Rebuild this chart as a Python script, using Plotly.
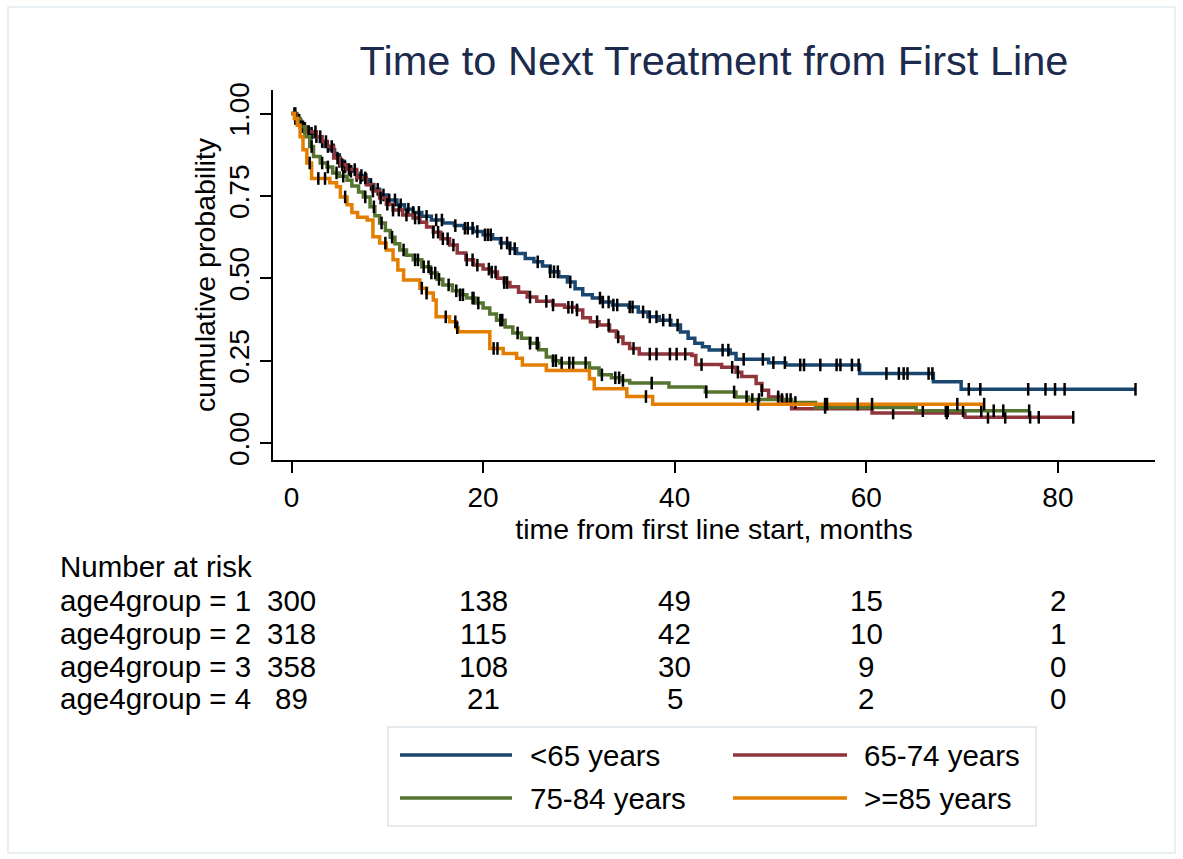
import numpy as np
import plotly.graph_objects as go

# ---------------- data ----------------
groups = ["<65 years", "65-74 years", "75-84 years", ">=85 years"]
colors = ["#1a476f", "#90353b", "#55752f", "#e37e00"]

blue_t = [0, 0.4, 0.8, 1.2, 1.8, 2.4, 3.0, 3.5, 4.0, 4.5, 5.0, 5.5, 6.2, 6.8, 7.4, 8.0, 8.6, 9.2, 10.0, 11.0, 11.8, 12.7, 13.6, 14.6, 15.8, 17.0, 18.0, 19.0, 20.0, 21.0, 21.8, 22.8, 23.5, 24.4, 25.3, 26.2, 27.0, 27.9, 28.8, 29.6, 30.4, 31.4, 32.4, 33.5, 35.2, 36.2, 37.2, 38.4, 39.6, 40.6, 41.4, 42.1, 42.9, 43.6, 45.8, 46.4, 49.8, 51.6, 59.3, 67.0, 69.9]
blue_s = [1.0, 0.985, 0.97, 0.955, 0.94, 0.93, 0.915, 0.9, 0.89, 0.875, 0.855, 0.838, 0.825, 0.812, 0.8, 0.785, 0.77, 0.753, 0.738, 0.723, 0.71, 0.7, 0.688, 0.677, 0.668, 0.66, 0.652, 0.642, 0.632, 0.62, 0.607, 0.59, 0.575, 0.56, 0.55, 0.537, 0.52, 0.505, 0.489, 0.468, 0.45, 0.44, 0.428, 0.419, 0.413, 0.398, 0.383, 0.373, 0.358, 0.337, 0.318, 0.303, 0.292, 0.282, 0.272, 0.254, 0.244, 0.237, 0.211, 0.186, 0.163]
blue_end = 88.1

red_t = [0, 0.5, 1.0, 1.6, 2.6, 3.2, 3.7, 4.4, 5.1, 5.8, 6.8, 7.8, 8.5, 9.2, 9.9, 10.6, 11.6, 12.7, 13.4, 14.1, 14.8, 15.6, 16.5, 17.3, 18.2, 19.0, 20.0, 20.7, 21.5, 22.2, 22.8, 23.7, 24.6, 25.6, 27.3, 28.5, 29.8, 30.4, 31.2, 32.1, 33.2, 33.9, 34.6, 35.3, 36.3, 41.8, 42.2, 44.9, 46.4, 47.0, 48.5, 49.1, 49.8, 51.2, 52.2, 60.6, 70.3]
red_s = [1.0, 0.98, 0.96, 0.945, 0.93, 0.915, 0.9, 0.865, 0.845, 0.83, 0.805, 0.784, 0.765, 0.744, 0.725, 0.707, 0.692, 0.683, 0.67, 0.656, 0.64, 0.62, 0.601, 0.577, 0.556, 0.54, 0.528, 0.519, 0.5, 0.487, 0.474, 0.458, 0.443, 0.43, 0.419, 0.412, 0.404, 0.38, 0.368, 0.358, 0.34, 0.322, 0.302, 0.287, 0.27, 0.266, 0.238, 0.23, 0.215, 0.202, 0.181, 0.16, 0.14, 0.123, 0.104, 0.091, 0.078]
red_end = 81.6

green_t = [0, 0.4, 0.9, 1.4, 1.9, 2.3, 3.0, 3.7, 4.3, 5.0, 5.8, 6.3, 7.0, 7.5, 8.2, 8.7, 9.2, 9.8, 10.3, 10.8, 11.3, 12.0, 12.7, 13.6, 14.5, 15.2, 15.8, 16.8, 17.6, 18.3, 19.2, 20.0, 20.7, 21.4, 22.3, 23.1, 24.0, 24.9, 25.8, 26.6, 27.3, 28.0, 31.1, 32.1, 33.4, 34.5, 35.3, 39.4, 43.2, 46.4, 47.7, 52.2, 54.7, 65.2]
green_s = [1.0, 0.985, 0.96, 0.93, 0.9, 0.87, 0.85, 0.838, 0.82, 0.81, 0.798, 0.78, 0.762, 0.747, 0.717, 0.69, 0.668, 0.645, 0.625, 0.605, 0.586, 0.57, 0.556, 0.535, 0.516, 0.497, 0.48, 0.462, 0.45, 0.44, 0.425, 0.41, 0.392, 0.373, 0.352, 0.334, 0.318, 0.303, 0.283, 0.261, 0.25, 0.243, 0.228, 0.207, 0.198, 0.19, 0.182, 0.17, 0.155, 0.14, 0.132, 0.123, 0.108, 0.098]
green_end = 77.0

orange_t = [0, 0.3, 0.6, 0.9, 1.2, 1.6, 2.1, 4.0, 4.7, 5.1, 5.8, 6.3, 6.9, 7.9, 8.5, 9.2, 9.9, 10.6, 11.1, 11.7, 13.4, 14.1, 14.8, 15.1, 16.5, 17.2, 17.4, 20.7, 22.1, 23.5, 24.1, 26.6, 31.1, 31.6, 35.0, 37.7]
orange_s = [1.0, 0.985, 0.965, 0.93, 0.89, 0.85, 0.803, 0.79, 0.778, 0.747, 0.723, 0.7, 0.685, 0.677, 0.626, 0.607, 0.586, 0.556, 0.525, 0.495, 0.47, 0.455, 0.434, 0.383, 0.368, 0.35, 0.338, 0.287, 0.272, 0.257, 0.237, 0.22, 0.195, 0.165, 0.141, 0.118]
orange_end = 72.3

blue_cens = [0.3, 0.6, 0.9, 1.4, 2.1, 2.6, 3.2, 3.8, 4.4, 5.0, 5.6, 6.2, 6.8, 7.3, 7.8, 8.3, 9.0, 9.6, 10.2, 10.8, 11.4, 12.2, 12.7, 13.3, 14.1, 15.1, 15.7, 17.1, 18.1, 18.4, 18.9, 19.4, 20.2, 20.5, 20.8, 21.9, 22.5, 22.8, 23.3, 25.7, 27.0, 27.4, 27.8, 29.1, 32.2, 32.5, 33.1, 33.6, 34.0, 35.3, 35.6, 36.7, 37.4, 38.1, 38.8, 39.5, 40.3, 45.0, 45.6, 47.2, 49.2, 50.3, 51.5, 53.1, 53.5, 55.2, 56.9, 57.3, 58.5, 59.2, 62.1, 63.4, 63.9, 64.3, 66.5, 66.9, 70.7, 71.9, 76.9, 78.7, 79.7, 80.7, 88.1]
red_cens = [0.4, 0.8, 1.2, 1.8, 2.5, 3.0, 3.6, 4.2, 4.8, 5.3, 6.0, 6.6, 7.2, 7.7, 8.5, 9.3, 10.0, 10.6, 11.2, 12.0, 12.9, 13.3, 14.8, 15.3, 15.8, 16.3, 16.9, 18.3, 18.9, 19.4, 20.6, 20.9, 21.3, 22.2, 22.5, 24.9, 26.6, 27.3, 28.9, 29.3, 29.8, 31.9, 33.1, 34.1, 35.7, 37.4, 38.1, 39.5, 40.2, 41.1, 42.8, 46.0, 46.6, 49.1, 50.8, 62.8, 68.4, 72.7, 74.5, 77.1, 78.0, 81.6]
green_cens = [0.4, 1.0, 2.1, 3.2, 3.8, 4.7, 5.4, 7.7, 8.6, 9.4, 10.5, 11.7, 12.9, 13.2, 13.8, 14.3, 14.6, 15.0, 15.4, 16.4, 17.2, 17.6, 17.9, 18.9, 19.0, 19.5, 21.8, 22.0, 23.6, 24.9, 25.6, 25.7, 27.3, 27.6, 28.2, 29.0, 29.4, 30.7, 32.4, 33.8, 34.2, 34.6, 37.6, 43.3, 46.2, 47.5, 48.1, 48.8, 50.8, 51.2, 51.7, 52.1, 52.6, 55.7, 65.9, 68.3, 68.5, 70.1, 72.0, 73.3, 74.3, 77.0]
orange_cens = [1.9, 2.8, 3.5, 5.6, 9.8, 13.6, 14.1, 16.1, 17.1, 17.3, 21.1, 21.5, 37.0, 48.7, 55.7, 55.9, 59.1, 60.6, 69.5, 72.3]

risk_times = [0, 20, 40, 60, 80]
risk_labels = ["age4group = 1", "age4group = 2", "age4group = 3", "age4group = 4"]
risk1 = [300, 138, 49, 15, 2]
risk2 = [318, 115, 42, 10, 1]
risk3 = [358, 108, 30, 9, 0]
risk4 = [89, 21, 5, 2, 0]

x_ticks = [0, 20, 40, 60, 80]
y_ticks = [0, 0.25, 0.5, 0.75, 1.0]
y_ticktext = ["0.00", "0.25", "0.50", "0.75", "1.00"]

# ---------------- layout geometry (pixels) ----------------
W, H = 1183, 859
L, R, T, B = 273, 1155, 90, 460
PW, PH = R - L, B - T
FONT = "Liberation Sans, Arial, sans-serif"
TXT = 29.5


def xp(px):
    return (px - L) / PW


def yp(py):
    return (B - py) / PH


fig = go.Figure()

series = [
    (blue_t, blue_s, blue_end, blue_cens),
    (red_t, red_s, red_end, red_cens),
    (green_t, green_s, green_end, green_cens),
    (orange_t, orange_s, orange_end, orange_cens),
]

for (t, s, end, cens), name, col in zip(series, groups, colors):
    xs = list(t) + [end]
    ys = list(s) + [s[-1]]
    fig.add_trace(go.Scatter(x=xs, y=ys, mode="lines", name=name,
                             line=dict(color=col, width=3.5, shape="hv"),
                             showlegend=False, hoverinfo="skip"))
    ta = np.array(t)
    sa = np.array(s)
    ca = np.array(cens)
    idx = np.searchsorted(ta, ca, side="right") - 1
    cy = sa[np.clip(idx, 0, len(sa) - 1)]
    fig.add_trace(go.Scatter(x=ca, y=cy, mode="markers", name=name + " censored",
                             marker=dict(symbol="line-ns", size=9,
                                         line=dict(color="black", width=2.5)),
                             showlegend=False, hoverinfo="skip"))

# ---------------- axes ----------------
x_min = (L - 291.5) / 9.58
x_max = (R - 291.5) / 9.58
y_min = (443 - B) / 329.4
y_max = (443 - T) / 329.4

fig.update_xaxes(range=[x_min, x_max], tickvals=x_ticks, showgrid=False, zeroline=False,
                 showline=True, linecolor="black", linewidth=2,
                 ticks="outside", ticklen=11, tickwidth=2, tickcolor="black",
                 tickfont=dict(family=FONT, size=28, color="black"),
                 title=dict(text="time from first line start, months",
                            font=dict(family=FONT, size=28.5, color="black"), standoff=0))
fig.update_yaxes(range=[y_min, y_max], tickvals=y_ticks, ticktext=y_ticktext, tickangle=-90,
                 showgrid=False, zeroline=False,
                 showline=True, linecolor="black", linewidth=2,
                 ticks="outside", ticklen=11, tickwidth=2, tickcolor="black",
                 tickfont=dict(family=FONT, size=28, color="black"),
                 title=dict(text="cumulative probability",
                            font=dict(family=FONT, size=28.5, color="black"), standoff=0))

# ---------------- risk table ----------------
ann = []
ann.append(dict(text="Number at risk", xref="paper", yref="paper", x=xp(58), y=yp(566),
                xanchor="left", yanchor="middle", showarrow=False,
                font=dict(family=FONT, size=TXT, color="black")))
row_y = [600, 633, 666, 699]
for lab, vals, ry in zip(risk_labels, [risk1, risk2, risk3, risk4], row_y):
    ann.append(dict(text=lab, xref="paper", yref="paper", x=xp(58), y=yp(ry),
                    xanchor="left", yanchor="middle", showarrow=False,
                    font=dict(family=FONT, size=TXT, color="black")))
    for tt, v in zip(risk_times, vals):
        ann.append(dict(text=str(v), xref="x", yref="paper", x=tt, y=yp(ry),
                        xanchor="center", yanchor="middle", showarrow=False,
                        font=dict(family=FONT, size=TXT, color="black")))

# ---------------- manual legend ----------------
shapes = []
shapes.append(dict(type="rect", xref="paper", yref="paper", x0=xp(8), x1=xp(1175),
                   y0=yp(853), y1=yp(7), line=dict(color="#e2ebef", width=1.5), layer="below"))
shapes.append(dict(type="rect", xref="paper", yref="paper", x0=xp(388), x1=xp(1036),
                   y0=yp(826), y1=yp(727), line=dict(color="#dbe3e8", width=1.5),
                   fillcolor="white", layer="below"))
leg_pos = [(400, 512, 528, 755), (733, 847, 862, 755), (400, 512, 528, 798), (733, 847, 862, 798)]
for (lx0, lx1, tx, ly), name, col in zip(leg_pos, groups, colors):
    shapes.append(dict(type="line", xref="paper", yref="paper", x0=xp(lx0), x1=xp(lx1),
                       y0=yp(ly), y1=yp(ly), line=dict(color=col, width=3.5)))
    ann.append(dict(text=name, xref="paper", yref="paper", x=xp(tx), y=yp(ly),
                    xanchor="left", yanchor="middle", showarrow=False,
                    font=dict(family=FONT, size=TXT, color="black")))

fig.update_layout(
    width=W, height=H,
    margin=dict(l=L, r=W - R, t=T, b=H - B, autoexpand=False),
    paper_bgcolor="white", plot_bgcolor="white",
    title=dict(text="Time to Next Treatment from First Line",
               font=dict(family=FONT, size=41.5, color="#1c2b4d"),
               x=0.5, xref="paper", xanchor="center",
               y=1 - 60 / H, yref="container", yanchor="middle"),
    annotations=ann, shapes=shapes, showlegend=False,
)

fig.write_html("out.html", config={"displayModeBar": False},
               post_script="document.body.style.margin='0';document.body.style.overflow='hidden';")
